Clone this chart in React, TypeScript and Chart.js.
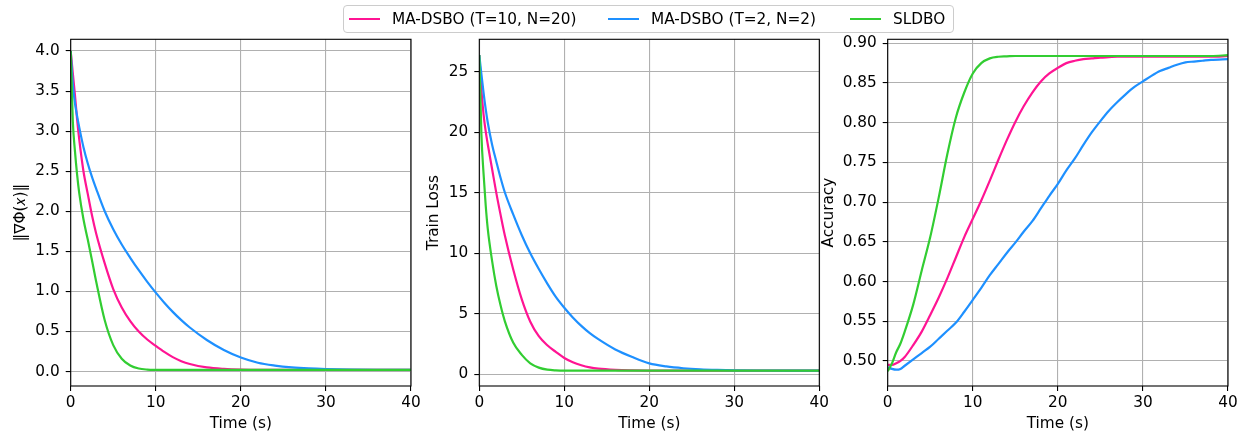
import React, { useEffect, useRef } from "react";
import { Chart, registerables } from "chart.js";

Chart.register(...registerables);

const FONT = "'DejaVu Sans', sans-serif";
const FS = 15.3;

const seriesNames = ["MA-DSBO (T=10, N=20)", "MA-DSBO (T=2, N=2)", "SLDBO"];
const seriesColors = ["#FF1493", "#1E90FF", "#32CD32"];

const xTicks = [0, 10, 20, 30, 40];

// Time grid used by the gradient-norm and train-loss panels
const timeLoss = [0, 0.25, 0.5, 0.75, 1, 1.5, 2, 2.5, 3, 4, 5, 6, 7, 8, 9, 10, 11, 12, 13, 14, 16, 18, 20, 22, 24, 26, 28, 30, 33, 36, 40];

const gradPink = [4.0, 3.72, 3.45, 3.15, 2.9, 2.5, 2.22, 1.95, 1.72, 1.35, 1.03, 0.8, 0.63, 0.5, 0.4, 0.32, 0.245, 0.18, 0.13, 0.095, 0.052, 0.033, 0.024, 0.021, 0.02, 0.02, 0.02, 0.02, 0.02, 0.02, 0.02];
const gradBlue = [4.0, 3.58, 3.35, 3.19, 3.05, 2.8, 2.6, 2.43, 2.28, 2.0, 1.775, 1.585, 1.42, 1.265, 1.12, 0.985, 0.86, 0.745, 0.642, 0.55, 0.394, 0.269, 0.175, 0.11, 0.075, 0.053, 0.04, 0.032, 0.025, 0.021, 0.02];
const gradGreen = [4.0, 3.12, 2.75, 2.46, 2.23, 1.9, 1.65, 1.39, 1.12, 0.64, 0.33, 0.16, 0.075, 0.038, 0.025, 0.021, 0.02, 0.02, 0.02, 0.02, 0.02, 0.02, 0.02, 0.02, 0.02, 0.02, 0.02, 0.02, 0.02, 0.02, 0.02];

const lossPink = [26.4, 23.5, 21.5, 20.1, 19.0, 17.0, 15.0, 13.2, 11.5, 8.65, 6.2, 4.35, 3.15, 2.4, 1.85, 1.35, 1.0, 0.75, 0.57, 0.46, 0.36, 0.32, 0.305, 0.3, 0.3, 0.3, 0.3, 0.3, 0.3, 0.3, 0.3];
const lossBlue = [26.4, 24.8, 23.3, 21.95, 20.8, 19.0, 17.6, 16.25, 15.05, 13.2, 11.5, 10.0, 8.7, 7.5, 6.4, 5.5, 4.7, 4.0, 3.4, 2.9, 2.05, 1.42, 0.9, 0.65, 0.5, 0.41, 0.36, 0.33, 0.31, 0.3, 0.3];
const lossGreen = [26.4, 19.8, 16.6, 14.0, 12.0, 9.4, 7.3, 5.7, 4.4, 2.6, 1.6, 0.9, 0.55, 0.38, 0.32, 0.3, 0.3, 0.3, 0.3, 0.3, 0.3, 0.3, 0.3, 0.3, 0.3, 0.3, 0.3, 0.3, 0.3, 0.3, 0.3];

// Time grid used by the accuracy panel
const timeAcc = [0, 0.5, 1, 1.5, 2, 3, 4, 5, 6, 7, 8, 9, 10, 11, 12, 13, 14, 15, 16, 17, 18, 19, 20, 21, 22, 23, 24, 25, 26, 27, 28, 29, 30, 31, 32, 33, 34, 35, 36, 37, 38, 40];

const accPink = [0.495, 0.495, 0.497, 0.5, 0.505, 0.52, 0.537, 0.558, 0.58, 0.604, 0.63, 0.656, 0.679, 0.702, 0.727, 0.753, 0.778, 0.801, 0.821, 0.838, 0.852, 0.862, 0.869, 0.875, 0.878, 0.88, 0.881, 0.882, 0.8825, 0.883, 0.883, 0.883, 0.883, 0.883, 0.883, 0.883, 0.883, 0.883, 0.883, 0.883, 0.883, 0.884];
const accBlue = [0.492, 0.49, 0.489, 0.49, 0.494, 0.502, 0.51, 0.518, 0.528, 0.538, 0.548, 0.562, 0.577, 0.592, 0.608, 0.622, 0.636, 0.649, 0.663, 0.676, 0.692, 0.708, 0.723, 0.74, 0.755, 0.772, 0.788, 0.802, 0.815, 0.826, 0.836, 0.845, 0.852, 0.859, 0.865, 0.869, 0.873, 0.876, 0.877, 0.878, 0.879, 0.88];
const accGreen = [0.487, 0.497, 0.511, 0.522, 0.537, 0.571, 0.614, 0.656, 0.706, 0.76, 0.806, 0.838, 0.862, 0.875, 0.881, 0.883, 0.8835, 0.884, 0.884, 0.884, 0.884, 0.884, 0.884, 0.884, 0.884, 0.884, 0.884, 0.884, 0.884, 0.884, 0.884, 0.884, 0.884, 0.884, 0.884, 0.884, 0.884, 0.884, 0.884, 0.884, 0.884, 0.885];

const framePlugin = {
  id: "frame",
  afterDraw(chart: any) {
    const { ctx, chartArea } = chart;
    const { left, top, right, bottom } = chartArea;
    ctx.save();
    ctx.strokeStyle = "#000";
    ctx.lineWidth = 1.1;
    ctx.strokeRect(left, top, right - left, bottom - top);
    ctx.restore();
  },
};

type PanelProps = {
  left: number;
  width: number;
  time: number[];
  series: number[][];
  yMin: number;
  yMax: number;
  yStep: number;
  decimals: number;
  yTitle: string;
  yTitlePad: number;
  yAxisWidth: number;
  rightPad: number;
};

function Panel(p: PanelProps) {
  const ref = useRef<HTMLCanvasElement | null>(null);
  useEffect(() => {
    if (!ref.current) return;
    const datasets = p.series.map((vals, i) => ({
      label: seriesNames[i],
      data: p.time.map((t, j) => ({ x: t, y: vals[j] })),
      borderColor: seriesColors[i],
      backgroundColor: seriesColors[i],
      borderWidth: 2.2,
      pointRadius: 0,
      fill: false,
      cubicInterpolationMode: "monotone" as const,
      order: 2 - i,
    }));
    const chart = new Chart(ref.current, {
      type: "line",
      data: { datasets },
      plugins: [framePlugin],
      options: {
        responsive: false,
        animation: false,
        devicePixelRatio: 1,
        layout: { padding: { left: 0, right: p.rightPad, top: 39.3, bottom: 0 } },
        plugins: { legend: { display: false }, tooltip: { enabled: false } },
        scales: {
          x: {
            type: "linear",
            min: 0,
            max: 40,
            afterBuildTicks: (s: any) => {
              s.ticks = xTicks.map((v) => ({ value: v }));
            },
            afterFit: (s: any) => {
              s.height = 49;
              s.paddingLeft = 0;
              s.paddingRight = 0;
            },
            ticks: {
              color: "#000",
              padding: 3,
              maxRotation: 0,
              font: { family: FONT, size: FS },
              callback: (v: any) => String(v),
            },
            grid: { color: "#b0b0b0", lineWidth: 1.1, tickColor: "#000", tickLength: 5, tickWidth: 1.1 },
            border: { display: false },
            title: {
              display: true,
              text: "Time (s)",
              color: "#000",
              font: { family: FONT, size: FS, lineHeight: 1.2 },
              padding: { top: 0, bottom: 2 },
            },
          },
          y: {
            type: "linear",
            min: p.yMin,
            max: p.yMax,
            afterFit: (s: any) => {
              s.width = p.yAxisWidth;
              s.paddingTop = 0;
              s.paddingBottom = 0;
            },
            ticks: {
              stepSize: p.yStep,
              includeBounds: false,
              color: "#000",
              padding: 6,
              font: { family: FONT, size: FS },
              callback: (v: any) => Number(v).toFixed(p.decimals),
            },
            grid: { color: "#b0b0b0", lineWidth: 1.1, tickColor: "#000", tickLength: 5, tickWidth: 1.1 },
            border: { display: false },
            title: {
              display: true,
              text: p.yTitle,
              color: "#000",
              font: { family: FONT, size: FS, lineHeight: 1.2 },
              padding: { top: p.yTitlePad, bottom: 0 },
            },
          },
        },
      },
    } as any);
    return () => chart.destroy();
  }, []);
  return (
    <canvas
      ref={ref}
      width={p.width}
      height={435}
      style={{ position: "absolute", left: p.left, top: 0, width: p.width, height: 435 }}
    />
  );
}

const legendItems = [
  { lineX: 349, textX: 392 },
  { lineX: 608, textX: 651 },
  { lineX: 850, textX: 893 },
];

export default function App() {
  return (
    <div
      style={{
        position: "fixed",
        left: 0,
        top: 0,
        width: 1246,
        height: 435,
        background: "#fff",
        fontFamily: FONT,
        overflow: "hidden",
      }}
    >
      <Panel
        left={0}
        width={420}
        time={timeLoss}
        series={[gradPink, gradBlue, gradGreen]}
        yMin={-0.18}
        yMax={4.146}
        yStep={0.5}
        decimals={1}
        yTitle={"‖∇Φ(𝑥)‖"}
        yTitlePad={11.5}
        yAxisWidth={70.7}
        rightPad={9}
      />
      <Panel
        left={420}
        width={410}
        time={timeLoss}
        series={[lossPink, lossBlue, lossGreen]}
        yMin={-0.97}
        yMax={27.7}
        yStep={5}
        decimals={0}
        yTitle="Train Loss"
        yTitlePad={5}
        yAxisWidth={59.3}
        rightPad={10.7}
      />
      <Panel
        left={815}
        width={431}
        time={timeAcc}
        series={[accPink, accBlue, accGreen]}
        yMin={0.4685}
        yMax={0.905}
        yStep={0.05}
        decimals={2}
        yTitle="Accuracy"
        yTitlePad={5}
        yAxisWidth={72.7}
        rightPad={18}
      />
      <div
        style={{
          position: "absolute",
          left: 343,
          top: 5,
          width: 611,
          height: 28,
          boxSizing: "border-box",
          border: "1px solid #cccccc",
          borderRadius: 4,
          background: "rgba(255,255,255,0.8)",
        }}
      />
      {legendItems.map((it, i) => (
        <React.Fragment key={i}>
          <div
            style={{
              position: "absolute",
              left: it.lineX,
              top: 17.9,
              width: 30.5,
              height: 2.2,
              background: seriesColors[i],
            }}
          />
          <div
            style={{
              position: "absolute",
              left: it.textX,
              top: 9,
              height: 20,
              lineHeight: "20px",
              fontSize: FS,
              color: "#000",
              whiteSpace: "nowrap",
            }}
          >
            {seriesNames[i]}
          </div>
        </React.Fragment>
      ))}
    </div>
  );
}
